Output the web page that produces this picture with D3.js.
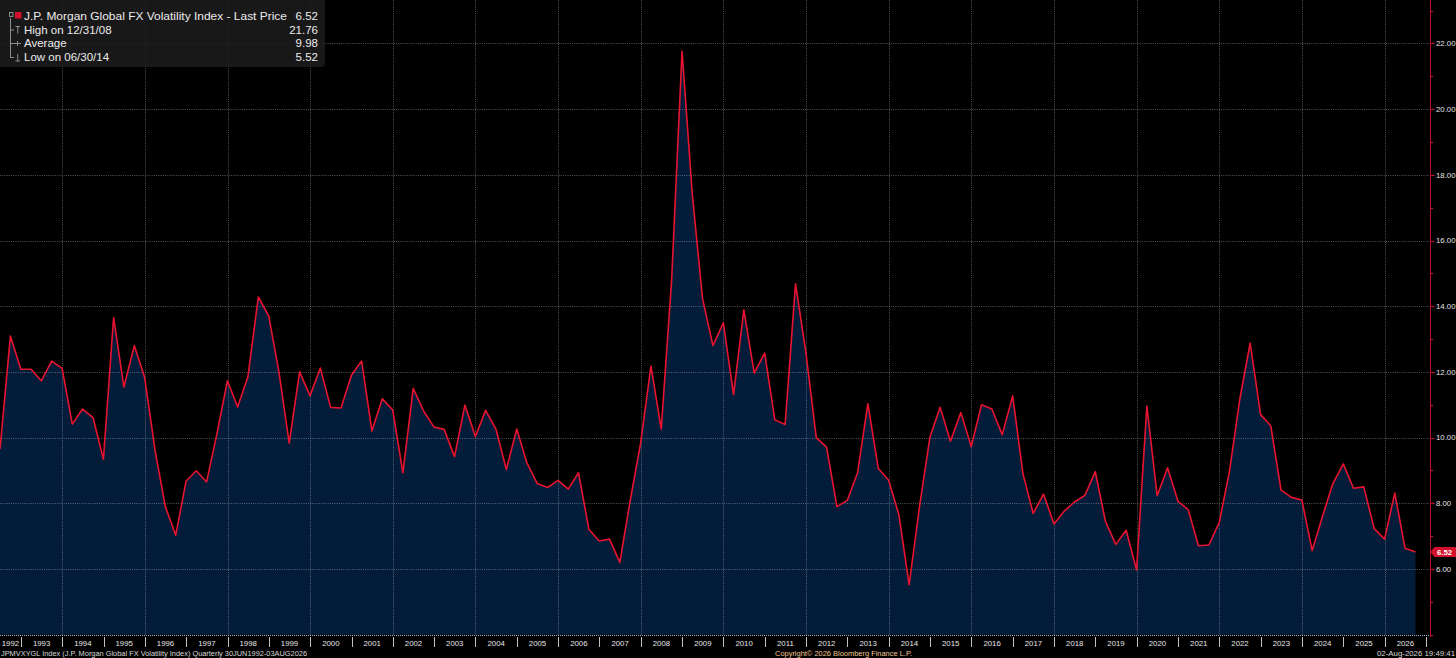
<!DOCTYPE html>
<html>
<head>
<meta charset="utf-8">
<script src="https://cdn.jsdelivr.net/npm/d3@7"></script>
<style>
html,body{margin:0;padding:0;background:#000;overflow:hidden;}
svg{display:block;}
text{font-family:"Liberation Sans",Arial,sans-serif;}
</style>
</head>
<body>
<svg id="chart" width="1456" height="658"></svg>
<script>
// ---------- DATA ----------
const quarterEnds = [
  "1992-06-30","1992-09-30","1992-12-31",
  "1993-03-31","1993-06-30","1993-09-30","1993-12-31",
  "1994-03-31","1994-06-30","1994-09-30","1994-12-31",
  "1995-03-31","1995-06-30","1995-09-30","1995-12-31",
  "1996-03-31","1996-06-30","1996-09-30","1996-12-31",
  "1997-03-31","1997-06-30","1997-09-30","1997-12-31",
  "1998-03-31","1998-06-30","1998-09-30","1998-12-31",
  "1999-03-31","1999-06-30","1999-09-30","1999-12-31",
  "2000-03-31","2000-06-30","2000-09-30","2000-12-31",
  "2001-03-31","2001-06-30","2001-09-30","2001-12-31",
  "2002-03-31","2002-06-30","2002-09-30","2002-12-31",
  "2003-03-31","2003-06-30","2003-09-30","2003-12-31",
  "2004-03-31","2004-06-30","2004-09-30","2004-12-31",
  "2005-03-31","2005-06-30","2005-09-30","2005-12-31",
  "2006-03-31","2006-06-30","2006-09-30","2006-12-31",
  "2007-03-31","2007-06-30","2007-09-30","2007-12-31",
  "2008-03-31","2008-06-30","2008-09-30","2008-12-31",
  "2009-03-31","2009-06-30","2009-09-30","2009-12-31",
  "2010-03-31","2010-06-30","2010-09-30","2010-12-31",
  "2011-03-31","2011-06-30","2011-09-30","2011-12-31",
  "2012-03-31","2012-06-30","2012-09-30","2012-12-31",
  "2013-03-31","2013-06-30","2013-09-30","2013-12-31",
  "2014-03-31","2014-06-30","2014-09-30","2014-12-31",
  "2015-03-31","2015-06-30","2015-09-30","2015-12-31",
  "2016-03-31","2016-06-30","2016-09-30","2016-12-31",
  "2017-03-31","2017-06-30","2017-09-30","2017-12-31",
  "2018-03-31","2018-06-30","2018-09-30","2018-12-31",
  "2019-03-31","2019-06-30","2019-09-30","2019-12-31",
  "2020-03-31","2020-06-30","2020-09-30","2020-12-31",
  "2021-03-31","2021-06-30","2021-09-30","2021-12-31",
  "2022-03-31","2022-06-30","2022-09-30","2022-12-31",
  "2023-03-31","2023-06-30","2023-09-30","2023-12-31",
  "2024-03-31","2024-06-30","2024-09-30","2024-12-31",
  "2025-03-31","2025-06-30","2025-09-30","2025-12-31",
  "2026-03-31","2026-06-30","2026-09-30"
];
const volValues = [
  9.65, 13.09, 12.08,
  12.08, 11.73, 12.33, 12.11,
  10.41, 10.87, 10.61, 9.34,
  13.65, 11.54, 12.80, 11.82,
  9.62, 7.90, 7.03, 8.68,
  8.99, 8.65, 10.13, 11.73,
  10.93, 11.85, 14.28, 13.70,
  12.01, 9.83, 12.00, 11.27,
  12.12, 10.92, 10.90, 11.90,
  12.33, 10.20, 11.18, 10.84,
  8.93, 11.50, 10.81, 10.32,
  10.25, 9.42, 10.99, 10.03,
  10.83, 10.26, 9.03, 10.26,
  9.23, 8.60, 8.48, 8.70,
  8.43, 8.93, 7.20, 6.85,
  6.91, 6.20, 8.09, 9.83,
  12.18, 10.26, 14.80, 21.76,
  17.43, 14.23, 12.80, 13.49,
  11.31, 13.89, 11.96, 12.57,
  10.54, 10.40, 14.68, 12.58,
  10.00, 9.71, 7.90, 8.09,
  8.93, 11.03, 9.07, 8.70,
  7.66, 5.52, 7.91, 10.02,
  10.92, 9.89, 10.76, 9.73,
  11.00, 10.87, 10.09, 11.27,
  8.92, 7.69, 8.28, 7.37,
  7.76, 8.04, 8.24, 8.96,
  7.45, 6.75, 7.18, 5.97,
  10.96, 8.23, 9.08, 8.06,
  7.81, 6.71, 6.73, 7.42,
  8.97, 11.16, 12.88, 10.70,
  10.36, 8.40, 8.18, 8.10,
  6.56, 7.60, 8.60, 9.20,
  8.46, 8.50, 7.23, 6.91,
  8.31, 6.63, 6.52
];
const yearLabels = ["1992","1993","1994","1995","1996","1997","1998","1999","2000","2001",
  "2002","2003","2004","2005","2006","2007","2008","2009","2010","2011","2012","2013",
  "2014","2015","2016","2017","2018","2019","2020","2021","2022","2023","2024","2025","2026"];
const gridYears = ["1994","1996","1998","2000","2002","2004","2006","2008","2010","2012",
  "2014","2016","2018","2020","2022","2024","2026"];
const yTickValues = [6, 8, 10, 12, 14, 16, 18, 20, 22];
const yMinorTicks = [4, 5, 7, 9, 11, 13, 15, 17, 19, 21, 23];
const legendLabels = ["J.P. Morgan Global FX Volatility Index - Last Price", "High on 12/31/08", "Average", "Low on 06/30/14"];
const legendValues = ["6.52", "21.76", "9.98", "5.52"];
const lastPrice = 6.52;
const footerLeft = "JPMVXYGL Index (J.P. Morgan Global FX Volatility Index) Quarterly 30JUN1992-03AUG2026";
const footerMid = "Copyright\u00A9 2026 Bloomberg Finance L.P.";
const footerRight = "02-Aug-2026 19:49:41";

// ---------- CHART ----------
const svg = d3.select("#chart");
const parse = d3.timeParse("%Y-%m-%d");
const data = quarterEnds.map((d, i) => ({date: parse(d), v: volValues[i]}));

const plotRight = 1426;
const axisX = 1430.5;
const x = d3.scaleTime()
  .domain([parse("1992-06-30"), parse("2027-01-01")])
  .range([0, plotRight]);
const y = d3.scaleLinear().domain([4, 22]).range([634.7, 43.4]);
const yBottom = y(4);

// area
svg.append("path")
  .datum(data)
  .attr("fill", "#031c3a")
  .attr("d", d3.area().x(d => x(d.date)).y0(yBottom).y1(d => y(d.v)));

// grid
const grid = svg.append("g").attr("stroke", "#fff").attr("stroke-opacity", 0.33)
  .attr("stroke-dasharray", "1,1.2").attr("stroke-width", 1);
grid.selectAll("line.h").data(yTickValues).join("line")
  .attr("x1", 0).attr("x2", axisX - 1)
  .attr("y1", d => Math.round(y(d)) + 0.5).attr("y2", d => Math.round(y(d)) + 0.5);
grid.selectAll("line.v").data(gridYears).join("line")
  .attr("x1", d => Math.round(x(parse(d + "-01-01"))) + 0.5)
  .attr("x2", d => Math.round(x(parse(d + "-01-01"))) + 0.5)
  .attr("y1", 0).attr("y2", yBottom);

// bottom dotted edge
svg.append("line")
  .attr("x1", 0).attr("x2", axisX).attr("y1", Math.round(yBottom) + 0.5).attr("y2", Math.round(yBottom) + 0.5)
  .attr("stroke", "#9db4d4").attr("stroke-dasharray", "1,1").attr("stroke-width", 1);

// line
svg.append("path")
  .datum(data)
  .attr("fill", "none")
  .attr("stroke", "#e8132f")
  .attr("stroke-width", 1.6)
  .attr("stroke-linejoin", "round")
  .attr("d", d3.line().x(d => x(d.date)).y(d => y(d.v)));

// right axis
const axisColor = "#c0102a";
svg.append("line").attr("x1", axisX).attr("x2", axisX).attr("y1", 0).attr("y2", 637)
  .attr("stroke", axisColor).attr("stroke-width", 1);
svg.selectAll("line.maj").data(yTickValues).join("line")
  .attr("x1", axisX).attr("x2", axisX + 4)
  .attr("y1", d => Math.round(y(d)) + 0.5).attr("y2", d => Math.round(y(d)) + 0.5)
  .attr("stroke", axisColor).attr("stroke-width", 1.2);
svg.selectAll("line.min").data(yMinorTicks).join("line")
  .attr("x1", axisX).attr("x2", axisX + 2.5)
  .attr("y1", d => Math.round(y(d)) + 0.5).attr("y2", d => Math.round(y(d)) + 0.5)
  .attr("stroke", axisColor).attr("stroke-width", 1.2);
svg.selectAll("text.ytick").data(yTickValues).join("text")
  .attr("x", 1436).attr("y", d => y(d)).attr("dy", "0.35em")
  .attr("font-size", "7.8px").attr("fill", "#e6e6e6")
  .text(d => d3.format(".2f")(d));

// last price tag
const ty = y(lastPrice);
svg.append("path")
  .attr("d", `M${axisX},${ty} L${axisX + 4},${ty - 5} L1456,${ty - 5} L1456,${ty + 5} L${axisX + 4},${ty + 5} Z`)
  .attr("fill", "#d3112c");
svg.append("text").attr("x", 1437).attr("y", ty).attr("dy", "0.35em")
  .attr("font-size", "7.8px").attr("font-weight", "bold").attr("fill", "#fff")
  .text(d3.format(".2f")(lastPrice));

// x axis separators & labels
const yearBounds = yearLabels.slice(1).concat(["2027"]);
svg.selectAll("line.sep").data(yearBounds).join("line")
  .attr("x1", d => Math.round(x(parse(d + "-01-01"))) + 0.5)
  .attr("x2", d => Math.round(x(parse(d + "-01-01"))) + 0.5)
  .attr("y1", 637).attr("y2", 647)
  .attr("stroke", "#bfbfbf").attr("stroke-width", 1);
svg.selectAll("text.year").data(yearLabels).join("text")
  .attr("x", d => {
    const a = Math.max(0, x(parse(d + "-01-01")));
    const b = Math.min(plotRight, x(parse((+d + 1) + "-01-01")));
    return Math.max(8, (a + b) / 2);
  })
  .attr("y", 646).attr("text-anchor", "middle")
  .attr("font-size", "7.8px").attr("fill", "#e6e6e6")
  .text(d => d);

// footer
svg.append("text").attr("x", 1).attr("y", 656).attr("font-size", "7.5px").attr("fill", "#d8d8d8")
  .attr("textLength", 306).attr("lengthAdjust", "spacingAndGlyphs").text(footerLeft);
svg.append("text").attr("x", 775).attr("y", 656).attr("font-size", "7.5px").attr("fill", "#f0c590")
  .attr("textLength", 137).attr("lengthAdjust", "spacingAndGlyphs").text(footerMid);
svg.append("text").attr("x", 1455).attr("y", 656).attr("text-anchor", "end").attr("font-size", "7.5px").attr("fill", "#d8d8d8")
  .attr("textLength", 78).attr("lengthAdjust", "spacingAndGlyphs").text(footerRight);

// legend
const lg = svg.append("g");
lg.append("path")
  .attr("d", "M0,0 H325 V63 Q325,67 321,67 H0 Z")
  .attr("fill", "#1c1c1c").attr("fill-opacity", 0.85);
const rowBase = [19.5, 33.5, 47.2, 61];
lg.selectAll("text.lab").data(legendLabels).join("text")
  .attr("x", 24).attr("y", (d, i) => rowBase[i])
  .attr("font-size", "11.5px").attr("fill", "#ececec")
  .each(function(d, i){ if (i === 0) d3.select(this).attr("textLength", 263).attr("lengthAdjust", "spacingAndGlyphs"); })
  .text(d => d);
lg.selectAll("text.val").data(legendValues).join("text")
  .attr("x", 318).attr("y", (d, i) => rowBase[i]).attr("text-anchor", "end")
  .attr("font-size", "11.5px").attr("fill", "#ececec")
  .text(d => d);
// icons
const ic = "#8c8c8c";
lg.append("rect").attr("x", 9.5).attr("y", 12.5).attr("width", 3.5).attr("height", 4).attr("fill", "none").attr("stroke", ic);
lg.append("rect").attr("x", 15).attr("y", 12).attr("width", 6.5).attr("height", 6.5).attr("fill", "#d3112c");
lg.append("line").attr("x1", 10.5).attr("x2", 10.5).attr("y1", 18).attr("y2", 58).attr("stroke", ic);
[30, 43.5, 57.5].forEach(cy => {
  lg.append("line").attr("x1", 10.5).attr("x2", 14).attr("y1", cy).attr("y2", cy).attr("stroke", ic);
});
// high glyph (T)
lg.append("line").attr("x1", 15.5).attr("x2", 20).attr("y1", 26.5).attr("y2", 26.5).attr("stroke", ic);
lg.append("line").attr("x1", 17.75).attr("x2", 17.75).attr("y1", 26.5).attr("y2", 33.5).attr("stroke", ic);
// average glyph (+)
lg.append("line").attr("x1", 14).attr("x2", 21).attr("y1", 43.5).attr("y2", 43.5).attr("stroke", ic);
lg.append("line").attr("x1", 17.5).attr("x2", 17.5).attr("y1", 41).attr("y2", 46).attr("stroke", ic);
// low glyph (inverted T)
lg.append("line").attr("x1", 17.75).attr("x2", 17.75).attr("y1", 54).attr("y2", 61).attr("stroke", ic);
lg.append("line").attr("x1", 15.5).attr("x2", 20).attr("y1", 61).attr("y2", 61).attr("stroke", ic);
</script>
</body>
</html>
